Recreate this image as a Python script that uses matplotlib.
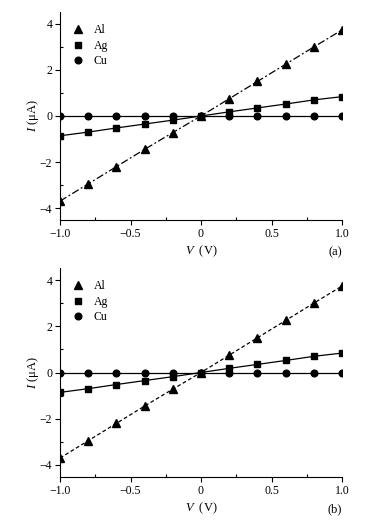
import matplotlib
matplotlib.use("Agg")
import matplotlib.pyplot as plt
from matplotlib.ticker import MultipleLocator

plt.rcParams['font.family'] = ['Liberation Serif', 'DejaVu Serif']
plt.rcParams['mathtext.fontset'] = 'custom'
plt.rcParams['mathtext.it'] = 'Liberation Serif:italic'
plt.rcParams['mathtext.rm'] = 'Liberation Serif'

voltage = [-1.0, -0.8, -0.6, -0.4, -0.2, 0.0, 0.2, 0.4, 0.6, 0.8, 1.0]
current_al = [-3.70, -2.95, -2.20, -1.45, -0.72, 0.0, 0.75, 1.50, 2.25, 3.00, 3.74]
current_ag = [-0.86, -0.70, -0.52, -0.35, -0.18, 0.0, 0.18, 0.35, 0.52, 0.70, 0.84]
current_cu = [0.0, 0.0, 0.0, 0.0, 0.0, 0.0, 0.0, 0.0, 0.0, 0.0, 0.0]
panel_labels = ['(a)', '(b)']
al_styles = [(0, (6, 2, 1.5, 2)), (0, (3, 2))]

W, H = 381, 522
fig = plt.figure(figsize=(W / 100, H / 100), dpi=100)

boxes = [(60, 12, 342, 220), (60, 268, 342, 477)]
for i, (x0, y0, x1, y1) in enumerate(boxes):
    ax = fig.add_axes([x0 / W, 1 - y1 / H, (x1 - x0) / W, (y1 - y0) / H])
    ax.plot(voltage, current_al, color='black', lw=0.9, ls=al_styles[i],
            marker='^', ms=5.2, label='Al')
    ax.plot(voltage, current_ag, color='black', lw=0.9, ls='-',
            marker='s', ms=4.3, label='Ag')
    ax.plot(voltage, current_cu, color='black', lw=0.9, ls='-',
            marker='o', ms=4.8, label='Cu')
    ax.set_xlim(-1.0, 1.0)
    ax.set_ylim(-4.52, 4.52)
    ax.spines['top'].set_visible(False)
    ax.spines['right'].set_visible(False)
    ax.xaxis.set_major_locator(MultipleLocator(0.5))
    ax.xaxis.set_minor_locator(MultipleLocator(0.25))
    ax.yaxis.set_major_locator(MultipleLocator(2))
    ax.yaxis.set_minor_locator(MultipleLocator(1))
    ax.tick_params(which='major', direction='out', length=3.5, width=0.8, labelsize=8.5, pad=2)
    ax.tick_params(which='minor', direction='in', length=2.5, width=0.8)
    ax.set_xticks([-1.0, -0.5, 0.0, 0.5, 1.0])
    ax.set_xticklabels(['\u22121.0', '\u22120.5', '0', '0.5', '1.0'])
    ax.set_yticks([-4, -2, 0, 2, 4])
    ax.set_yticklabels(['\u22124', '\u22122', '0', '2', '4'])
    ax.set_xlabel(r'$\mathit{V}$  (V)', fontsize=9, labelpad=3)
    ax.set_ylabel(r'$\mathit{I}$ ($\mathrm{\mu}$A)', fontsize=9, labelpad=-1)
    ax.text(1.0, -0.125, panel_labels[i], transform=ax.transAxes, ha='right', va='top', fontsize=9)
    ax.legend(loc='upper left', bbox_to_anchor=(0.04, 0.975), frameon=False, fontsize=8.5,
              handlelength=0, handletextpad=1.3, labelspacing=0.3, borderaxespad=0.2)

fig.savefig('out.png', dpi=100)
